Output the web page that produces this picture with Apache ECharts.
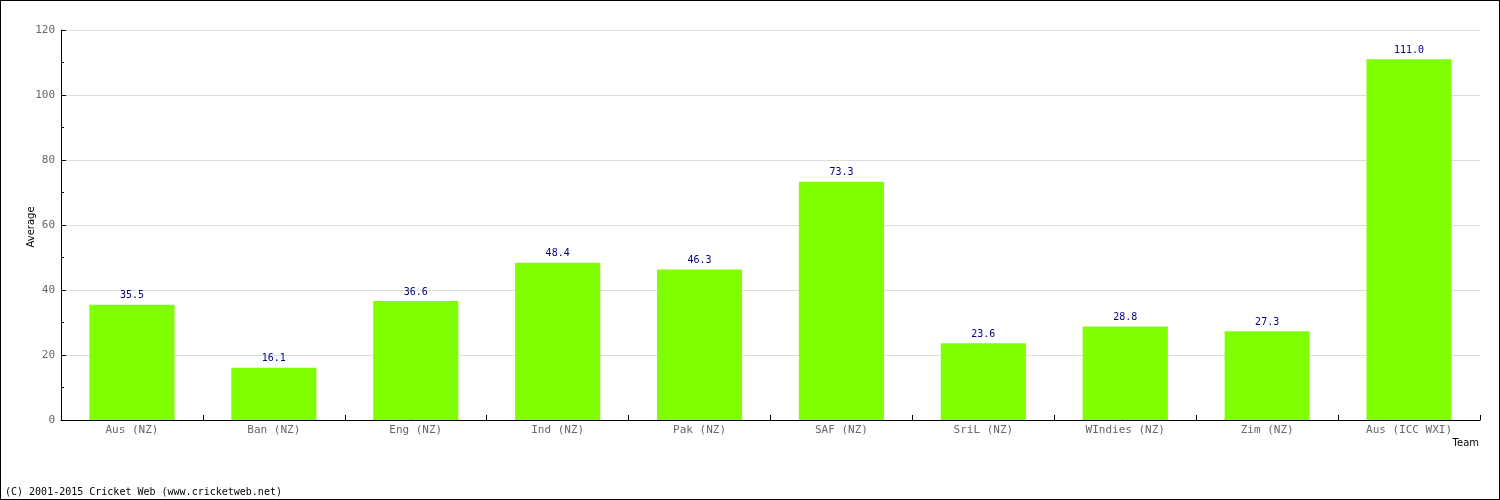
<!DOCTYPE html>
<html><head><meta charset="utf-8">
<script src="https://cdn.jsdelivr.net/npm/echarts@6/dist/echarts.min.js"></script>
<style>html,body{margin:0;padding:0;background:#fff}#c{width:1500px;height:500px;box-sizing:border-box;border:1px solid #000}</style>
</head><body><div id="c"></div>
<script>
const categories = ['Aus (NZ)','Ban (NZ)','Eng (NZ)','Ind (NZ)','Pak (NZ)','SAF (NZ)','SriL (NZ)','WIndies (NZ)','Zim (NZ)','Aus (ICC WXI)'];
const averages = [35.5,16.1,36.6,48.4,46.3,73.3,23.6,28.8,27.3,111.0];
const yTicks = {min:0,max:120,interval:20};
const chart = echarts.init(document.getElementById('c'));
chart.setOption({
  animation:false,
  grid:{left:60,right:19,top:29,bottom:79,containLabel:false},
  xAxis:{type:'category',data:categories,
    axisLine:{lineStyle:{color:'#000',width:1}},
    axisTick:{show:true,inside:true,length:5,lineStyle:{color:'#000'}},
    axisLabel:{color:'#666',fontFamily:'DejaVu Sans Mono',fontSize:11,margin:5},
    splitLine:{show:false}},
  yAxis:{type:'value',min:yTicks.min,max:yTicks.max,interval:yTicks.interval,
    axisLine:{show:true,lineStyle:{color:'#000',width:1}},
    axisTick:{show:true,inside:true,length:5,lineStyle:{color:'#000'}},
    minorTick:{show:true,splitNumber:2,length:3,lineStyle:{color:'#000'}},
    axisLabel:{color:'#666',fontFamily:'DejaVu Sans Mono',fontSize:11,margin:6},
    splitLine:{show:true,lineStyle:{color:'#ddd',width:1}}},
  series:[{type:'bar',data:averages,barCategoryGap:'40%',
    itemStyle:{color:'#80ff00'},
    label:{show:true,position:'top',distance:4,color:'#000080',fontFamily:'DejaVu Sans Mono',fontSize:10,
      formatter:p=>p.value.toFixed(1)}}],
  graphic:[
    {type:'text',x:30,y:226,rotation:Math.PI/2,style:{text:'Average',fill:'#000',font:'10px "DejaVu Sans"',align:'center',verticalAlign:'middle'}},
    {type:'text',right:20,top:437,style:{text:'Team',fill:'#000',font:'10px "DejaVu Sans"'}},
    {type:'text',left:4,top:486,style:{text:'(C) 2001-2015 Cricket Web (www.cricketweb.net)',fill:'#000',font:'10px "DejaVu Sans Mono"'}}
  ]
});
</script></body></html>
